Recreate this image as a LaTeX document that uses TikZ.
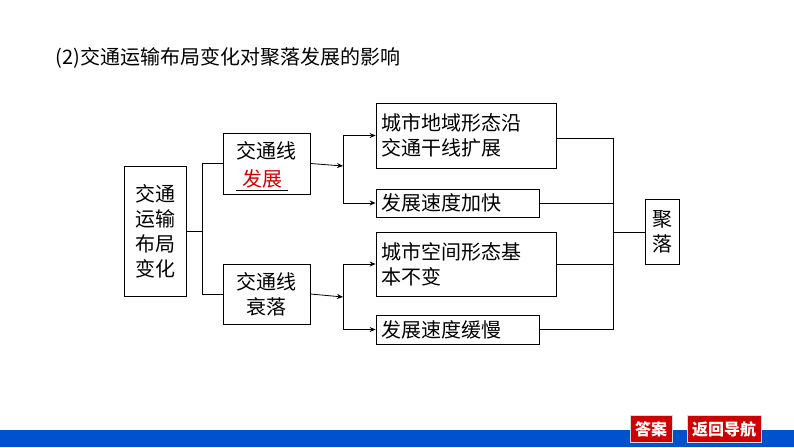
\documentclass[tikz,border=0pt]{standalone}
\usepackage{fontspec}
\newfontfamily\cjk{Noto Sans CJK SC}
\usetikzlibrary{arrows.meta}
\usetikzlibrary{positioning}
\tikzset{
  box/.style={draw,thick,inner sep=0pt,font=\cjk\fontsize{20}{25}\selectfont,align=left},
  link/.style={thick},
  arrow/.style={thick,-{Stealth[length=6pt,width=5pt]}},
  btn/.style={fill=red!80!black,text=white,draw=gray!30,font=\cjk\bfseries\fontsize{16}{18}\selectfont,inner xsep=5pt,minimum height=27pt}
}
\begin{document}
\begin{tikzpicture}[x=1pt,y=-1pt]
            \useasboundingbox (0,0) rectangle (794,447);
            \fill[white] (0,0) rectangle (794,447);
            \fill[blue!60!cyan!80!black] (0,430) rectangle (794,447);

            \node[anchor=west,font=\cjk\fontsize{20}{25}\selectfont] (title) at (52,58) {(2)交通运输布局变化对聚落发展的影响};

            \node[box,minimum width=62pt,minimum height=130pt,align=center] (main) at (155,231) {交通\\运输\\布局\\变化};

            \node[box,minimum width=87pt,minimum height=61pt,align=center] (up) at (266.5,163.5) {交通线\\\phantom{发展}};
            \node[text=red!80!black,font=\cjk\fontsize{20}{25}\selectfont] (fill) at (262,179) {发展};
            \draw[thick] (236,190) -- (288,190);
            \node[box,minimum width=87pt,minimum height=60pt,align=center] (down) at (266.5,294) {交通线\\衰落};

            \node[box,minimum width=180pt,minimum height=65pt,text width=170pt] (r1) at (466,135.5) {城市地域形态沿\\交通干线扩展};
            \node[box,minimum width=163pt,minimum height=28pt,text width=153pt] (r2) at (457.5,203) {发展速度加快};
            \node[box,minimum width=180pt,minimum height=64pt,text width=170pt] (r3) at (466,264) {城市空间形态基\\本不变};
            \node[box,minimum width=163pt,minimum height=29pt,text width=153pt] (r4) at (457.5,329.5) {发展速度缓慢};

            \node[box,minimum width=34pt,minimum height=65pt,align=center] (jl) at (662,232) {聚\\落};

            % left fork
            \coordinate (f1) at (202,231);
            \draw[link] (main.east) -- (f1);
            \draw[link] (f1) |- (up.west);
            \draw[link] (f1) |- (down.west);

            % middle forks
            \coordinate (f2) at (343,166);
            \coordinate (f3) at (343,297);
            \draw[arrow] (up.east) -- (f2);
            \draw[arrow] (f2) |- (r1.west);
            \draw[arrow] (f2) |- (r2.west);
            \draw[arrow] (down.east) -- (f3);
            \draw[arrow] (f3) |- (r3.west);
            \draw[arrow] (f3) |- (r4.west);

            % right join
            \coordinate (j) at (613,232);
            \draw[link] (r1.east |- 0,138) -| (j);
            \draw[link] (r2.east) -| (j);
            \draw[link] (r3.east) -| (j);
            \draw[link] (r4.east) -| (j);
            \draw[link] (j) -- (jl.west);

            \node[btn] (ans) at (651,429) {答案};
            \node[btn] (nav) at (724,429) {返回导航};
\end{tikzpicture}
\end{document}
